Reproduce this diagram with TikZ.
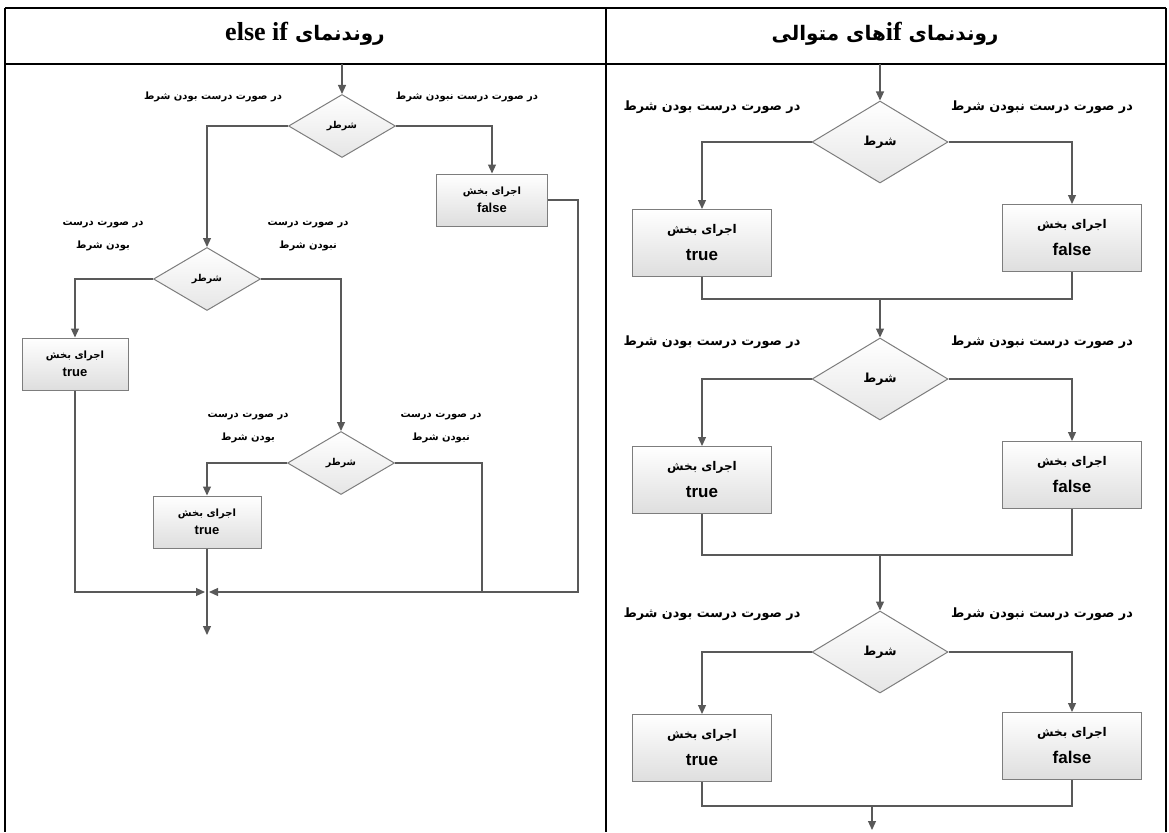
\documentclass[tikz,border=0pt]{standalone}
\usepackage{fontspec}
\setmainfont{Liberation Sans}
\newfontfamily\fa[Script=Arabic]{DejaVu Sans}
\newfontfamily\tnr{Liberation Serif}
\TeXXeTstate=1
\usetikzlibrary{
	shapes.geometric,
	positioning,
	arrows.meta
}
\definecolor{wire}{RGB}{89,89,89}
\definecolor{rim}{RGB}{125,125,125}
\newcommand\fatxt[1]{{\fa\beginR#1\endR}}
% Persian first line of a block, in its own size
\newcommand\runpart[2]{{\fontsize{#1}{#1}\selectfont\fatxt{اجرای بخش}}\\#2}
\tikzset{
	flow/.style={
		draw=wire,line width=1.2pt
	},
	go/.style={
		flow,-{Triangle[length=9pt,width=8pt]}
	},
	block/.style={
		draw=rim,line width=1pt,top color=white,bottom color=black!13,
		align=center,inner sep=0pt,minimum width=106pt,minimum height=52pt,
		font=\fontsize{13}{18}\selectfont\bfseries
	},
	bigblock/.style={
		block,minimum width=139pt,minimum height=67pt,
		font=\fontsize{17}{27}\selectfont\bfseries
	},
	cond/.style={
		diamond,aspect=1.7,draw=rim,line width=1pt,top color=white,bottom color=black!10,
		inner sep=0pt,minimum width=107pt,minimum height=63pt,
		font=\fontsize{9.5}{12}\selectfont\bfseries
	},
	bigcond/.style={
		cond,minimum width=136pt,minimum height=82pt,
		font=\fontsize{12.5}{15}\selectfont\bfseries
	},
	tag/.style={
		align=center,inner sep=0pt,font=\fontsize{10}{23}\selectfont\bfseries
	},
	bigtag/.style={
		tag,font=\fontsize{12.8}{14}\selectfont\bfseries
	},
	frame/.style={
		draw=black,line width=2.5pt
	}
}

\begin{document}
\begin{tikzpicture}[x=1pt,y=-1pt]
	\useasboundingbox (0,0) rectangle (1169,832);

	% table
	\draw[frame] (5,8) -- (1166,8) (5,64) -- (1166,64);
	\draw[frame] (5,8) -- (5,832) (606,8) -- (606,832) (1166,8) -- (1166,832);
	\node (headL) at (305,34) {\fontsize{20}{26}\selectfont\bfseries\fa\beginR روندنمای \beginL{\tnr\bfseries\fontsize{26}{26}\selectfont else if}\endL\endR};
	\node (headR) at (885,34) {\fontsize{20}{26}\selectfont\bfseries\fa\beginR روندنمای \beginL{\tnr\bfseries\fontsize{26}{26}\selectfont if}\endL های متوالی\endR};

	% else if chain
	\node [cond]                       (a1) at (342,126) {\fatxt{شرطر}};
	\node [cond]                       (a2) at (207,279) {\fatxt{شرطر}};
	\node [cond]                       (a3) at (341,463) {\fatxt{شرطر}};
	\node [block,minimum width=111pt]  (fa) at (492,200) {\runpart{10}{false}};
	\node [block]                      (ta1) at (75,364) {\runpart{10}{true}};
	\node [block,minimum width=108pt]  (ta2) at (207,522) {\runpart{10}{true}};

	\node [tag] (ya1) at (213,97)  {\fatxt{در صورت درست بودن شرط}};
	\node [tag] (na1) at (467,97)  {\fatxt{در صورت درست نبودن شرط}};
	\node [tag] (ya2) at (103,236) {\fatxt{در صورت درست}\\\fatxt{بودن شرط}};
	\node [tag] (na2) at (308,236) {\fatxt{در صورت درست}\\\fatxt{نبودن شرط}};
	\node [tag] (ya3) at (248,428) {\fatxt{در صورت درست}\\\fatxt{بودن شرط}};
	\node [tag] (na3) at (441,428) {\fatxt{در صورت درست}\\\fatxt{نبودن شرط}};

	\coordinate (inL)  at (342,64);
	\coordinate (jn)   at (207,592);
	\coordinate (back) at (578,592);
	\coordinate (c3)   at (482,592);
	\coordinate (outL) at (207,635);

	\draw[go] (inL) -- (a1.north);
	\draw[go] (a1.west) -| (a2.north);
	\draw[go] (a1.east) -| (fa.north);
	\draw[go] (a2.west) -| (ta1.north);
	\draw[go] (a2.east) -| (a3.north);
	\draw[go] (a3.west) -| (ta2.north);
	\draw[flow] (a3.east) -| (c3);
	\draw[go,shorten >=2pt] (fa.east) -| (back) -- (jn);
	\draw[go,shorten >=2pt] (ta1.south) |- (jn);
	\draw[go] (ta2.south) -- (outL);

	% successive ifs
	\coordinate (m0) at (880,64);
	\foreach \i/\yd/\yt/\yf/\ym/\yl [count=\j from 0] in
		{1/142/243/238/299/107, 2/379/480/475/555/342, 3/652/748/746/806/614} {
		\node [bigcond]  (d\i) at (880,\yd)  {\fatxt{شرط}};
		\node [bigblock] (t\i) at (702,\yt)  {\runpart{12}{true}};
		\node [bigblock] (f\i) at (1072,\yf) {\runpart{12}{false}};
		\node [bigtag]   (y\i) at (712,\yl)  {\fatxt{در صورت درست بودن شرط}};
		\node [bigtag]   (n\i) at (1042,\yl) {\fatxt{در صورت درست نبودن شرط}};
		\coordinate (m\i) at (880,\ym);
		\draw[go] (m\j) -- (d\i.north);
		\draw[go] (d\i.west) -| (t\i.north);
		\draw[go] (d\i.east) -| (f\i.north);
		\draw[flow] (t\i.south) |- (m\i) -| (f\i.south);
	}
	\coordinate (m4) at (872,806);
	\coordinate (outR) at (872,830);
	\draw[go] (m4) -- (outR);
\end{tikzpicture}
\end{document}
